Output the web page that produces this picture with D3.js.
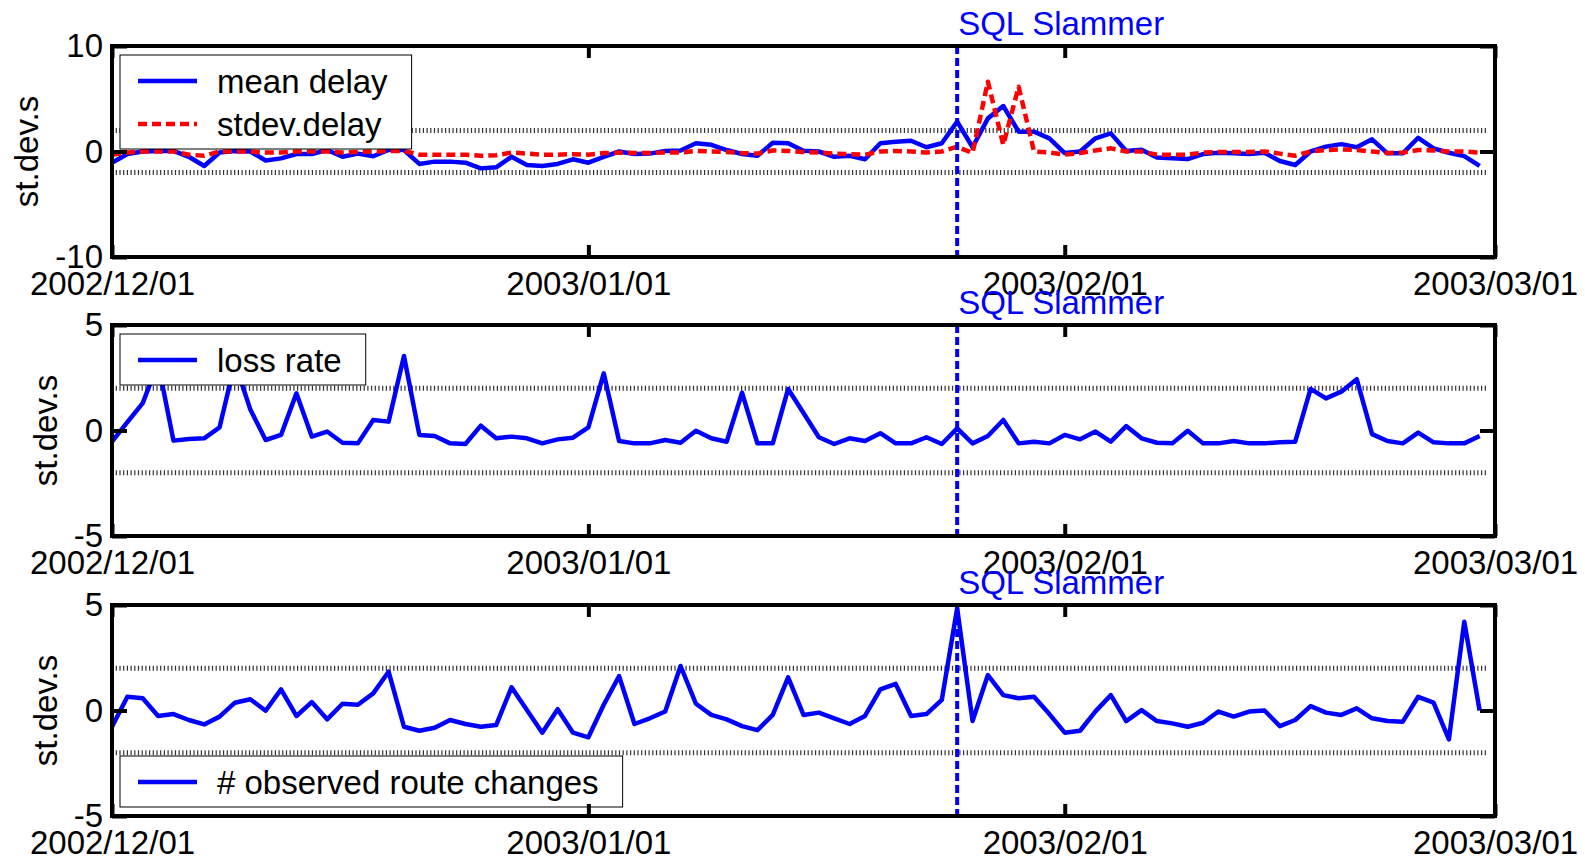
<!DOCTYPE html>
<html>
<head>
<meta charset="utf-8">
<style>
  body { margin: 0; background: #fff; }
  text { font-family: "Liberation Sans", Arial, sans-serif; }
</style>
</head>
<body>

<script src="https://d3js.org/d3.v7.min.js"></script>
<script>

const width = 1585;
const height = 860;

const startDate = new Date(Date.UTC(2002, 11, 1));
const endDate = new Date(Date.UTC(2003, 2, 1));
const slammerDate = new Date(Date.UTC(2003, 0, 25));

const xTickDates = [
  new Date(Date.UTC(2002, 11, 1)),
  new Date(Date.UTC(2003, 0, 1)),
  new Date(Date.UTC(2003, 1, 1)),
  new Date(Date.UTC(2003, 2, 1))
];

const meanDelay = [
  -1.06, -0.24, 0.0, 0.05, 0.05, -0.5, -1.37, -0.1, 0.05, 0.0,
  -0.85, -0.65, -0.24, -0.24, 0.14, -0.5, -0.2, -0.45, 0.14, 0.14,
  -1.18, -0.96, -0.96, -1.06, -1.6, -1.5, -0.5, -1.28, -1.37, -1.18,
  -0.74, -1.06, -0.5, 0.0, -0.24, -0.2, 0.05, 0.1, 0.78, 0.63,
  0.14, -0.24, -0.4, 0.82, 0.78, 0.08, 0.0, -0.5, -0.4, -0.74,
  0.78, 0.93, 1.02, 0.4, 0.78, 2.83, 0.4, 3.14, 4.31, 1.88,
  1.88, 1.25, -0.15, 0.0, 1.25, 1.72, 0.05, 0.17, -0.57, -0.63,
  -0.72, -0.24, -0.12, -0.17, -0.24, -0.12, -0.9, -1.28, 0.0, 0.46,
  0.7, 0.4, 1.15, -0.17, -0.17, 1.3, 0.3, -0.12, -0.44, -1.37
];

const stdevDelay = [
  -0.3, -0.1, 0, 0, 0, -0.3, -0.4, 0, 0, 0,
  -0.1, -0.1, 0, 0, 0, -0.1, -0.05, 0, 0.05, 0.05,
  -0.3, -0.3, -0.3, -0.3, -0.4, -0.35, -0.1, -0.2, -0.3, -0.3,
  -0.25, -0.3, -0.15, -0.1, -0.15, -0.15, -0.1, -0.1, 0.05, 0,
  -0.05, -0.15, -0.2, 0.1, 0.05, -0.05, -0.1, -0.2, -0.25, -0.3,
  0, 0.05, 0, -0.1, 0, 0.46, -0.15, 6.62, 0.62, 6.14,
  0, -0.1, -0.3, -0.15, 0.1, 0.3, 0, 0, -0.3, -0.3,
  -0.3, -0.1, -0.05, -0.05, -0.05, 0, -0.2, -0.4, 0, 0.14,
  0.2, 0.14, 0, -0.15, -0.1, 0.14, 0.1, 0, 0, -0.1
];

const lossRate = [
  -0.53, 0.4, 1.3, 3.2, -0.48, -0.4, -0.37, 0.15, 3.2, 1.0,
  -0.45, -0.21, 1.76, -0.29, -0.05, -0.58, -0.61, 0.5, 0.42, 3.53,
  -0.21, -0.26, -0.61, -0.64, 0.23, -0.37, -0.29, -0.37, -0.61, -0.42,
  -0.34, 0.15, 2.71, -0.5, -0.61, -0.61, -0.45, -0.58, -0.01, -0.37,
  -0.53, 1.79, -0.61, -0.61, 1.97, 0.83, -0.32, -0.64, -0.37, -0.5,
  -0.13, -0.61, -0.61, -0.32, -0.64, 0.1, -0.61, -0.26, 0.5, -0.61,
  -0.53, -0.61, -0.21, -0.42, -0.05, -0.53, 0.21, -0.37, -0.58, -0.61,
  -0.01, -0.61, -0.61, -0.5, -0.61, -0.61, -0.56, -0.53, 1.97, 1.52,
  1.84, 2.43, -0.17, -0.5, -0.61, -0.1, -0.56, -0.61, -0.61, -0.26
];

const routeChanges = [
  -0.77, 0.65, 0.58, -0.26, -0.17, -0.45, -0.66, -0.29, 0.37, 0.53,
  -0.01, 1.0, -0.26, 0.4, -0.42, 0.32, 0.27, 0.81, 1.84, -0.77,
  -0.96, -0.82, -0.45, -0.64, -0.77, -0.69, 1.1, 0.02, -1.05, 0.06,
  -1.05, -1.27, 0.27, 1.63, -0.64, -0.37, -0.05, 2.11, 0.32, -0.21,
  -0.42, -0.74, -0.93, -0.21, 1.57, -0.21, -0.1, -0.37, -0.64, -0.26,
  1.0, 1.26, -0.26, -0.17, 0.5, 4.84, -0.5, 1.68, 0.73, 0.58,
  0.65, -0.17, -1.05, -0.96, -0.04, 0.73, -0.5, 0.02, -0.5, -0.61,
  -0.77, -0.58, -0.05, -0.29, -0.05, 0.0, -0.74, -0.45, 0.21, -0.1,
  -0.21, 0.1, -0.37, -0.5, -0.53, 0.65, 0.37, -1.37, 4.21, 0.0
];

const delayTicks = [-10, 0, 10];
const smallTicks = [-5, 0, 5];
const gridLevels = [-2, 2];

const days = d3.utcDay.range(startDate, endDate);

const panels = [
  {
    top: 46, domain: [-10, 10], ticks: delayTicks, labelX: 38, legendTop: 55,
    series: [
      {name: 'mean delay', values: meanDelay, color: '#0000ff', dash: null},
      {name: 'stdev.delay', values: stdevDelay, color: '#ff0000', dash: '9,5'}
    ]
  },
  {
    top: 325, domain: [-5, 5], ticks: smallTicks, labelX: 57, legendTop: 334,
    series: [{name: 'loss rate', values: lossRate, color: '#0000ff', dash: null}]
  },
  {
    top: 605, domain: [-5, 5], ticks: smallTicks, labelX: 57, legendTop: 756,
    series: [{name: '# observed route changes', values: routeChanges, color: '#0000ff', dash: null}]
  }
];

const left = 112;
const right = 1495;
const panelHeight = 211;
const fontSize = 33;

const svg = d3.select('body')
              .append('svg')
              .attr('width', width)
              .attr('height', height);

const x = d3.scaleUtc()
            .domain([startDate, endDate])
            .range([left, right]);

panels.forEach(p => {
  const y = d3.scaleLinear()
              .domain(p.domain)
              .range([p.top + panelHeight, p.top]);

  const g = svg.append('g');

  // dotted +-2 reference lines
  g.selectAll('.grid')
   .data(gridLevels)
   .enter()
   .append('line')
   .attr('x1', left)
   .attr('x2', right - 7)
   .attr('y1', d => y(d))
   .attr('y2', d => y(d))
   .attr('stroke', '#333')
   .attr('stroke-width', 5)
   .attr('stroke-dasharray', '1.2,2.5');

  const line = d3.line()
                 .x((d, i) => x(days[i]))
                 .y(d => y(d));

  p.series.forEach(s => {
    g.append('path')
     .datum(s.values)
     .attr('d', line)
     .attr('fill', 'none')
     .attr('stroke', s.color)
     .attr('stroke-width', 4.5)
     .attr('stroke-linejoin', 'round')
     .attr('stroke-dasharray', s.dash);
  });

  // slammer marker
  g.append('line')
   .attr('x1', x(slammerDate))
   .attr('x2', x(slammerDate))
   .attr('y1', p.top)
   .attr('y2', p.top + panelHeight)
   .attr('stroke', '#0000ff')
   .attr('stroke-width', 4)
   .attr('stroke-dasharray', '8,4');

  g.append('text')
   .attr('x', x(slammerDate) + 1)
   .attr('y', p.top - 11)
   .attr('fill', '#0000ff')
   .attr('font-size', fontSize)
   .text('SQL Slammer');

  // legend
  const legend = g.append('g');
  const box = legend.append('rect')
                    .attr('x', 120)
                    .attr('y', p.legendTop)
                    .attr('height', 51 + (p.series.length - 1) * 43)
                    .attr('fill', '#fff')
                    .attr('stroke', '#000')
                    .attr('stroke-width', 1);
  let maxEnd = 0;
  p.series.forEach((s, i) => {
    const ly = p.legendTop + 26 + i * 43;
    legend.append('line')
          .attr('x1', 138)
          .attr('x2', 197)
          .attr('y1', ly)
          .attr('y2', ly)
          .attr('stroke', s.color)
          .attr('stroke-width', 4.5)
          .attr('stroke-dasharray', s.dash);
    const t = legend.append('text')
                    .attr('x', 217)
                    .attr('y', ly)
                    .attr('dy', '0.35em')
                    .attr('font-size', fontSize)
                    .text(s.name);
    maxEnd = Math.max(maxEnd, 217 + t.node().getComputedTextLength());
  });
  box.attr('width', maxEnd + 24 - 120);

  // axes
  g.append('g')
   .attr('transform', `translate(0,${p.top + panelHeight})`)
   .call(d3.axisBottom(x)
           .tickValues(xTickDates)
           .tickFormat(d3.utcFormat('%Y/%m/%d'))
           .tickSizeInner(-12)
           .tickSizeOuter(0)
           .tickPadding(15));
  g.append('g')
   .attr('transform', `translate(0,${p.top})`)
   .call(d3.axisTop(x)
           .tickValues(xTickDates)
           .tickFormat('')
           .tickSizeInner(-12)
           .tickSizeOuter(0));
  g.append('g')
   .attr('transform', `translate(${left},0)`)
   .call(d3.axisLeft(y)
           .tickValues(p.ticks)
           .tickFormat(d => String(d))
           .tickSizeInner(-15)
           .tickSizeOuter(0)
           .tickPadding(9));
  g.append('g')
   .attr('transform', `translate(${right},0)`)
   .call(d3.axisRight(y)
           .tickValues(p.ticks)
           .tickFormat('')
           .tickSizeInner(-15)
           .tickSizeOuter(0));

  g.selectAll('.domain').remove();
  g.selectAll('.tick line')
   .attr('stroke', '#000')
   .attr('stroke-width', 4);
  g.selectAll('.tick text')
   .attr('font-size', fontSize)
   .attr('font-family', '"Liberation Sans", Arial, sans-serif')
   .attr('fill', '#000');

  g.append('rect')
   .attr('x', left)
   .attr('y', p.top)
   .attr('width', right - left)
   .attr('height', panelHeight)
   .attr('fill', 'none')
   .attr('stroke', '#000')
   .attr('stroke-width', 4);

  g.append('text')
   .attr('transform', `translate(${p.labelX},${p.top + panelHeight / 2}) rotate(-90)`)
   .attr('text-anchor', 'middle')
   .attr('font-size', fontSize)
   .text('st.dev.s');
});

</script>
</body>
</html>
